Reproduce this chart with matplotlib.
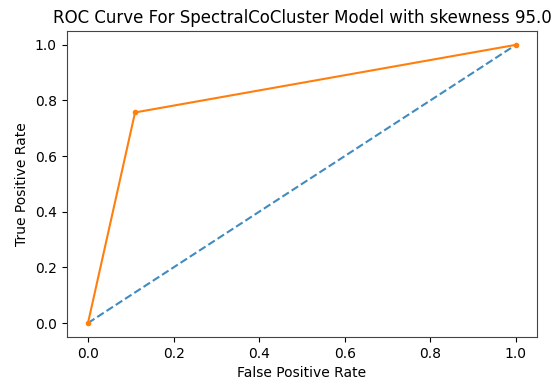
import matplotlib
matplotlib.use('Agg')
import matplotlib.pyplot as plt

# ROC data
fpr = [0.0, 0.11, 1.0]
tpr = [0.0, 0.757, 1.0]
ns_fpr = [0.0, 1.0]
ns_tpr = [0.0, 1.0]

fig = plt.figure(figsize=(5.55, 3.82), dpi=100)
ax = fig.add_axes([0.120, 0.118, 0.848, 0.801])

ax.plot(ns_fpr, ns_tpr, linestyle='--', color='#1f77b4', alpha=0.85)
ax.plot(fpr, tpr, marker='.', color='#ff7f0e')

ax.set_title('ROC Curve For SpectralCoCluster Model with skewness 95.0', fontsize=12)
ax.set_xlabel('False Positive Rate', fontsize=10)
ax.set_ylabel('True Positive Rate', fontsize=10)
ax.tick_params(labelsize=10)
for s in ax.spines.values():
    s.set_color('#444444')

fig.savefig('out.png', dpi=100)
